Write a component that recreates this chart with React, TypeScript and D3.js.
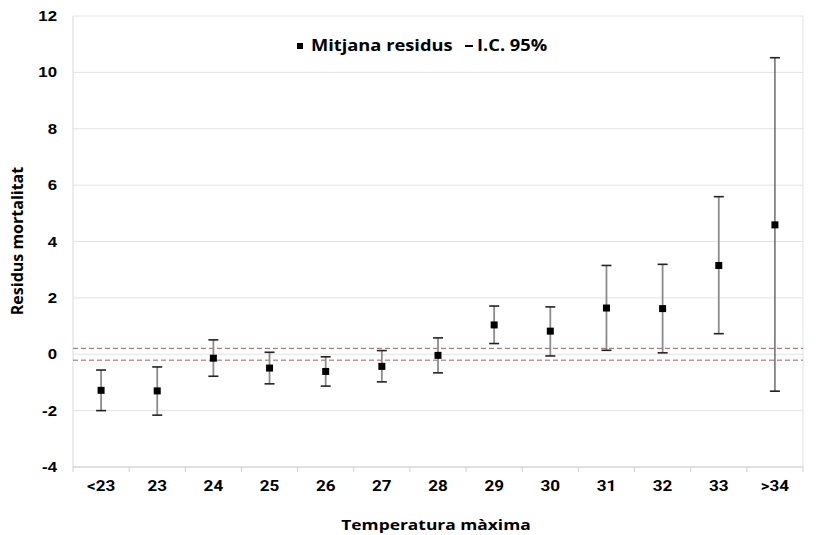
import { useMemo } from "react";
import { scaleBand, scaleLinear, range } from "d3";

const CATEGORIES = ["<23", "23", "24", "25", "26", "27", "28", "29", "30", "31", "32", "33", ">34"];
const MEANS = [-1.28, -1.3, -0.14, -0.49, -0.61, -0.43, -0.04, 1.04, 0.82, 1.64, 1.62, 3.15, 4.59];
const LOWER = [-2.0, -2.16, -0.78, -1.05, -1.13, -0.98, -0.66, 0.38, -0.06, 0.14, 0.05, 0.73, -1.31];
const UPPER = [-0.56, -0.45, 0.51, 0.07, -0.09, 0.13, 0.58, 1.71, 1.68, 3.15, 3.19, 5.59, 10.52];
const BAND_LIMITS = [-0.21, 0.21];
const Y_TICKS = [-4, -2, 0, 2, 4, 6, 8, 10, 12];

const WIDTH = 820;
const HEIGHT = 535;
const LEFT = 73;
const RIGHT = 803;
const TOP = 16;
const BOTTOM = 467;
// the original picture is a bit stretched horizontally
const SX = 1.2;

const TITLE_FONT = "Open Sans, Noto Sans, sans-serif";

export default function App() {
  const x = useMemo(() => scaleBand().domain(CATEGORIES).range([LEFT, RIGHT]).padding(0), []);
  const y = useMemo(() => scaleLinear().domain([-4, 12]).range([BOTTOM, TOP]), []);
  const bw = x.bandwidth();

  return (
    <svg
      width={WIDTH}
      height={HEIGHT}
      style={{ position: "absolute", left: 0, top: 0, background: "#fff" }}
    >
      {/* grid */}
      {Y_TICKS.map((t) => (
        <line key={t} x1={LEFT} x2={RIGHT} y1={y(t)} y2={y(t)} stroke="#e3e3e3" strokeWidth={1} />
      ))}
      <line x1={LEFT} x2={LEFT} y1={TOP} y2={BOTTOM} stroke="#d9d9d9" />
      <line x1={RIGHT} x2={RIGHT} y1={TOP} y2={BOTTOM} stroke="#e3e3e3" />
      <line x1={LEFT} x2={RIGHT} y1={BOTTOM} y2={BOTTOM} stroke="#d0d0d0" />

      {/* x ticks */}
      {range(CATEGORIES.length + 1).map((i) => {
        const px = LEFT + i * bw;
        return <line key={i} x1={px} x2={px} y1={BOTTOM} y2={BOTTOM + 5} stroke="#d0d0d0" />;
      })}

      {/* y tick labels */}
      {Y_TICKS.map((t) => (
        <text
          key={t}
          transform={`translate(57,${y(t) + 5}) scale(${SX},1)`}
          textAnchor="end"
          fontFamily="Liberation Sans, Arial, sans-serif"
          fontWeight="bold"
          fontSize={14}
          fill="#000"
        >
          {t}
        </text>
      ))}

      {/* x tick labels */}
      {CATEGORIES.map((c) => (
        <text
          key={c}
          transform={`translate(${(x(c) ?? 0) + bw / 2},491) scale(1.1,1)`}
          textAnchor="middle"
          fontFamily="Liberation Sans Narrow, Roboto, sans-serif"
          fontWeight="bold"
          fontSize={15.5}
          fill="#000"
        >
          {c}
        </text>
      ))}

      {/* dashed reference band */}
      {BAND_LIMITS.map((v) => (
        <line
          key={v}
          x1={LEFT}
          x2={RIGHT}
          y1={y(v)}
          y2={y(v)}
          stroke="#a06060"
          strokeWidth={1}
          strokeDasharray="5,3"
        />
      ))}

      {/* error bars */}
      {CATEGORIES.map((c, i) => {
        const cx = (x(c) ?? 0) + bw / 2;
        const last = i === CATEGORIES.length - 1;
        return (
          <g key={c}>
            <line
              x1={cx}
              x2={cx}
              y1={y(UPPER[i])}
              y2={y(LOWER[i])}
              stroke={last ? "#444" : "#8c8c8c"}
              strokeWidth={last ? 1.2 : 1.8}
            />
            <line x1={cx - 5} x2={cx + 5} y1={y(UPPER[i])} y2={y(UPPER[i])} stroke="#222" strokeWidth={1.6} />
            <line x1={cx - 5} x2={cx + 5} y1={y(LOWER[i])} y2={y(LOWER[i])} stroke="#222" strokeWidth={1.6} />
            <rect x={cx - 3.5} y={y(MEANS[i]) - 3.5} width={7} height={7} fill="#000" />
          </g>
        );
      })}

      {/* legend */}
      <rect x={297} y={43} width={6} height={6} fill="#000" />
      <text
        transform={`translate(311,51) scale(1.18,1)`}
        fontFamily={TITLE_FONT}
        fontWeight="bold"
        fontSize={15.5}
        fill="#000"
      >
        Mitjana residus
      </text>
      <line x1={465} x2={473} y1={46} y2={46} stroke="#000" strokeWidth={2} />
      <text
        transform={`translate(477,51) scale(1.18,1)`}
        fontFamily={TITLE_FONT}
        fontWeight="bold"
        fontSize={15.5}
        fill="#000"
      >
        I.C. 95%
      </text>

      {/* axis titles */}
      <text
        transform={`translate(23,241) rotate(-90)`}
        textAnchor="middle"
        fontFamily={TITLE_FONT}
        fontWeight="bold"
        fontSize={16}
        fill="#000"
      >
        Residus mortalitat
      </text>
      <text
        transform={`translate(436,530) scale(${SX},1)`}
        textAnchor="middle"
        fontFamily={TITLE_FONT}
        fontWeight="bold"
        fontSize={14.5}
        fill="#000"
      >
        Temperatura màxima
      </text>
    </svg>
  );
}
